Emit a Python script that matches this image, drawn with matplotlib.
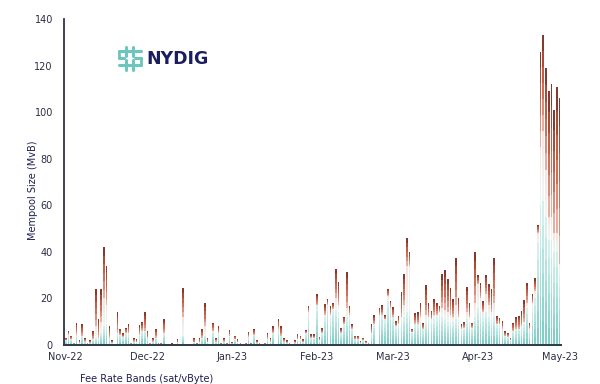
import numpy as np
import pandas as pd
import matplotlib
matplotlib.use("Agg")
import matplotlib.pyplot as plt
import matplotlib.dates as mdates
from matplotlib.colors import LinearSegmentedColormap
from matplotlib.lines import Line2D

# ---------------- data (MvB per day, by fee-rate band group) ----------------
start_date = "2022-11-01"

# low fee bands (teal)
low = [2, 4.5, 2.5, 0.5, 4.5, 1, 4, 1.5, 0.5, 1, 2.5, 3, 3, 5, 8, 9, 3, 1, 0.1, 5,
       4.5, 3.5, 5, 5, 0.5, 1.5, 1.2, 4.5, 6, 6, 3, 0.5, 1.5, 3, 0.4, 0.4, 5, 0.1, 0.1, 0.3,
       0.1, 1, 0.1, 4, 0.2, 0.1, 0.2, 1.2, 0.4, 1.2, 3, 4, 1.2, 0.2, 6, 1.5, 5, 0.4, 1.5, 0.4,
       4, 0.6, 2.5, 1.2, 0.4, 0.2, 0.4, 3.5, 0.4, 4.5, 1, 0.4, 0.1, 0.4, 2.5, 1.5, 5, 0.2, 7, 4,
       1.5, 1, 0.4, 0.2, 1, 2.5, 2.5,
       1.2, 5, 14, 3, 3, 17, 2, 5, 12, 17, 12, 15.5, 15, 14, 5, 9, 12, 13, 7, 2.5,
       2.5, 0.8, 2, 0.8, 0.5, 5, 9, 0.1, 13, 13, 11, 19, 16, 12, 8, 9, 11, 12, 14, 15,
       5.5, 9, 9, 10, 7, 10, 11, 11, 11, 12, 13, 12, 11, 10, 10, 10, 11, 10, 7, 7.5,
       11, 10, 7.5, 12, 16, 14, 12, 14, 12, 11, 12, 9, 9, 7, 4, 3.5, 2, 6, 7, 7,
       8, 9, 16, 7, 16, 20, 44,
       60, 62, 55, 45, 45, 40, 40, 30]

# mid fee bands (pale)
mid = [0, 0, 0, 0, 0, 0, 0, 0, 0, 0, 0, 5, 0, 5, 12, 8, 0, 0, 0, 0,
       0, 0, 0, 0, 0, 0, 0, 0, 0, 0, 0, 0, 0, 0, 0, 0, 0, 0, 0, 0,
       0, 0, 0, 8, 0, 0, 0, 0, 0, 0, 0, 4, 0, 0, 0, 0, 0, 0, 0, 0,
       0, 0, 0, 0, 0, 0, 0, 0, 0, 0, 0, 0, 0, 0, 0, 0, 0, 0, 0, 0,
       0, 0, 0, 0, 0, 0, 0,
       0, 0, 0, 0, 0, 0, 0, 0, 1, 0, 1, 0, 5, 3, 0, 0, 4, 0, 0, 0,
       0, 0, 0, 0, 0, 0, 0, 0, 0, 0, 0, 2, 0, 0, 0, 0, 1, 5, 20, 19,
       0, 0, 0, 2, 0, 3, 1, 0, 2, 1, 1, 4, 4, 4, 3, 2, 6, 2, 0, 0,
       3, 2, 0, 6, 10, 6, 2, 8, 5, 3, 6, 0, 0, 0, 0, 0, 0, 0, 0, 0,
       0, 1, 2, 0, 2, 3, 4,
       25, 30, 20, 10, 10, 8, 8, 5]

# high fee bands (red)
high = [1, 1.5, 1.5, 0.5, 5.1, 1, 5, 1.5, 0.5, 1, 3.5, 16, 8, 14, 22, 17, 5, 1, 0.2, 9,
        2.5, 1.5, 2.5, 4, 0.5, 1.5, 1.3, 4.1, 4, 8, 3, 0.5, 1.5, 4, 0.6, 0.6, 6, 0.2, 0.2, 0.4,
        0.2, 1.5, 0.2, 12.5, 0.3, 0.2, 0.3, 1.8, 0.6, 1.8, 4, 10, 1.8, 0.3, 3.6, 1.5, 3, 0.6, 1.5, 0.6,
        2.4, 0.7, 1.5, 1.3, 0.6, 0.3, 0.6, 2, 0.6, 2.5, 1, 0.6, 0.2, 0.6, 2.5, 1.5, 3, 0.3, 4, 4,
        1.5, 1, 0.6, 0.3, 1, 2.1, 1.5,
        1.2, 1.4, 2.7, 1.6, 1.6, 4.7, 1.6, 2.4, 4.4, 2.6, 3.7, 2.4, 12.7, 10, 2.4, 3, 15.4, 3.7, 1.9, 1.5,
        1.4, 0.9, 1.1, 0.9, 0.5, 3.9, 3.7, 0.2, 3, 4, 1.7, 3, 2.9, 4.4, 2.3, 3.4, 10.7, 13.7, 12, 6,
        1.5, 4.6, 5.3, 6.1, 2.3, 12.6, 5.9, 3.6, 6.6, 5.1, 2.7, 14.3, 17, 14.4, 11.6, 7.9, 20.4, 8.3, 1.9, 2.4,
        11, 5.9, 2.1, 21.9, 3.9, 6.7, 4.9, 7.9, 9.3, 9.9, 19.4, 3.4, 2.7, 3.3, 2, 1.8, 1.1, 3.6, 5.1, 5.4,
        6.6, 9.3, 8.7, 2.6, 3.7, 5.6, 3.7,
        41, 41, 44, 54, 57, 53, 63, 71]

x_ticks = ["2022-11-01", "2022-12-01", "2023-01-01", "2023-02-01",
           "2023-03-01", "2023-04-01", "2023-05-01"]
x_tick_labels = ["Nov-22", "Dec-22", "Jan-23", "Feb-23", "Mar-23", "Apr-23", "May-23"]
y_ticks = [0, 20, 40, 60, 80, 100, 120, 140]

# ---------------- figure ----------------
W, H = 600, 384
fig = plt.figure(figsize=(W / 100, H / 100), dpi=100)
fig.patch.set_facecolor("white")

ax_left, ax_right, ax_top, ax_bot = 64, 561, 19, 345
ax = fig.add_axes([ax_left / W, 1 - ax_bot / H, (ax_right - ax_left) / W, (ax_bot - ax_top) / H])

dates = pd.date_range(start_date, periods=len(low), freq="D")
xd = mdates.date2num(dates)
low_a = np.array(low, float)
mid_a = np.array(mid, float)
high_a = np.array(high, float)

width = 0.6
N = 6
teal_cmap = LinearSegmentedColormap.from_list("teal", ["#7fcfc7", "#a9e0da", "#d4efec"])
mid_cmap = LinearSegmentedColormap.from_list("mid", ["#eef5f3", "#f6e4df"])
red_cmap = LinearSegmentedColormap.from_list("red", ["#e8ad9e", "#d47560", "#c0563f", "#843a2f"])

base = np.zeros_like(low_a)
for arr, cmap in [(low_a, teal_cmap), (mid_a, mid_cmap), (high_a, red_cmap)]:
    for k in range(N):
        seg = arr / N
        ax.bar(xd, seg, bottom=base + k * seg, width=width, color=cmap(k / (N - 1)),
               linewidth=0, align="center")
    base = base + arr

ax.set_xlim(mdates.date2num(pd.Timestamp("2022-11-01")) - 0.62,
            mdates.date2num(pd.Timestamp("2023-05-01")) + 0.5)
ax.set_ylim(0, 140)
ax.set_yticks(y_ticks)
ax.set_xticks(mdates.date2num(pd.to_datetime(x_ticks)))
ax.set_xticklabels(x_tick_labels)

for s in ["top", "right"]:
    ax.spines[s].set_visible(False)
ax.spines["left"].set_color("#1d1f3c")
ax.spines["left"].set_linewidth(1.2)
ax.spines["bottom"].set_color("#2c3a4a")
ax.spines["bottom"].set_linewidth(1.4)
ax.tick_params(axis="both", length=0, labelsize=7, colors="#2b2d45")
ax.tick_params(axis="y", pad=8)
ax.tick_params(axis="x", pad=5)
ax.set_facecolor("white")

fig.text(33 / W, 1 - 190 / H, "Mempool Size (MvB)", rotation=90, ha="center", va="center",
         fontsize=7, color="#1e2050")
fig.text(80 / W, 1 - 379 / H, "Fee Rate Bands (sat/vByte)", ha="left", va="center",
         fontsize=7, color="#1e2050")

# logo
fig.text(146 / W, 1 - 58.5 / H, "NYDIG", ha="left", va="center", fontsize=12.5,
         fontweight="bold", color="#1b1e5e", family="DejaVu Sans")
teal = "#6cc6bd"
def fl(x0, y0, x1, y1, lw=2.2):
    fig.add_artist(Line2D([x0 / W, x1 / W], [1 - y0 / H, 1 - y1 / H], color=teal,
                          linewidth=lw, solid_capstyle="round"))
fl(119, 51, 141, 51)
fl(119, 58, 124, 58)
fl(135, 58, 141, 58)
fl(119, 65, 141, 65)
fl(126, 47, 126, 56)
fl(133, 47, 133, 56)
fl(126, 60, 126, 70)
fl(133, 60, 133, 70)
fl(119, 51, 119, 58, lw=2.0)
fl(141, 58, 141, 65, lw=2.0)

fig.savefig("out.png", dpi=100, facecolor="white")
